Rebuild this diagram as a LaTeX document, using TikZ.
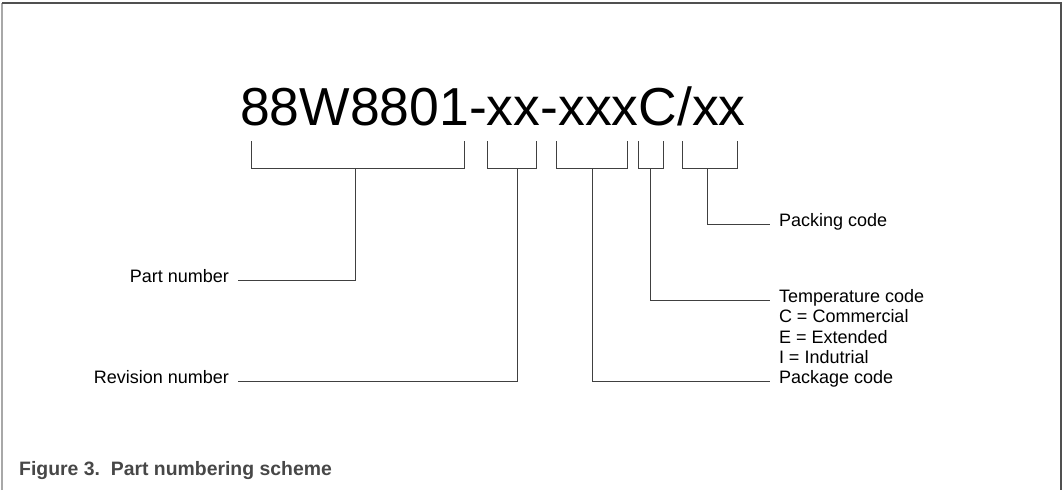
\documentclass[tikz,border=0pt]{standalone}
\usepackage{fontspec}
\setmainfont{Liberation Sans}
\definecolor{linegray}{HTML}{404040}
\definecolor{framedark}{HTML}{505050}
\definecolor{framelight}{HTML}{A8A8A8}
\definecolor{captiongray}{HTML}{474747}
\begin{document}
\begin{tikzpicture}[x=1pt,y=-1pt,
  conn/.style={draw=linegray, line width=1pt},
  lbl/.style={font=\fontsize{18}{20.3}\selectfont, inner sep=0pt, outer xsep=9pt, text height=0.72em, text depth=0.2em},
  vlbl/.style={font=\fontsize{18}{20.3}\selectfont, inner sep=0pt, outer xsep=9pt, anchor=base west}
]
\useasboundingbox (0,0) rectangle (1063,490);
% frame
\draw[framelight, line width=1.5pt] (2,490) -- (2,3);
\draw[framedark, line width=1.5pt] (2,3) -- (1061,3) -- (1061,490);

% part number string
\node[anchor=base west, inner sep=0pt, font=\fontsize{53.5}{60}\selectfont] (pn) at (240,125) {88W8801-xx-xxxC/xx};

% brackets
\draw[conn] (251,141) -- (251,168) -- (464,168) -- (464,141);
\draw[conn] (487,141) -- (487,168) -- (536,168) -- (536,141);
\draw[conn] (556,141) -- (556,168) -- (627,168) -- (627,141);
\draw[conn] (638,141) -- (638,168) -- (663,168) -- (663,141);
\draw[conn] (682,141) -- (682,168) -- (737,168) -- (737,141);
\coordinate (s1) at (355,168);
\coordinate (s2) at (517,168);
\coordinate (s3) at (592,168);
\coordinate (s4) at (650,168);
\coordinate (s5) at (707,168);

% labels
\node[lbl, anchor=east] (part) at (238,280) {Part number};
\node[lbl, anchor=east] (rev) at (238,381) {Revision number};
\node[lbl, anchor=west] (pack) at (770,224) {Packing code};
\node[lbl, anchor=west] (temp) at (770,300) {Temperature code};
\node[vlbl] (tc1) at ([yshift=-20.3pt]temp.base west) {C = Commercial};
\node[vlbl] (tc2) at ([yshift=-20.3pt]tc1.base west) {E = Extended};
\node[vlbl] (tc3) at ([yshift=-20.3pt]tc2.base west) {I = Indutrial};
\node[lbl, anchor=west] (pkg) at (770,381) {Package code};

% connectors
\draw[conn] (s1) |- (part.east);
\draw[conn] (s2) |- (rev.east);
\draw[conn] (s3) |- (pkg.west);
\draw[conn] (s4) |- (temp.west);
\draw[conn] (s5) |- (pack.west);

% caption
\node[anchor=base west, inner sep=0pt, font=\bfseries\fontsize{19.4}{22}\selectfont, text=captiongray] (cap) at (19,475) {Figure 3.\ \ Part numbering scheme};
\end{tikzpicture}
\end{document}
